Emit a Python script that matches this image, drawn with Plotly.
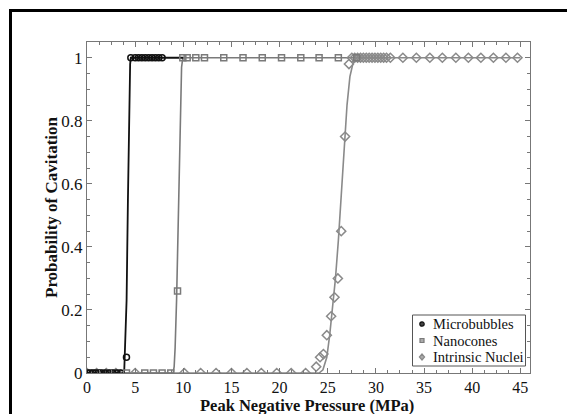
import plotly.graph_objects as go

# ---- data ----
mb_x = [0, 0.3, 0.6, 0.9, 1.2, 1.5, 1.9, 2.3, 2.7, 3.1, 3.5, 4.1, 4.55,
        5.0, 5.35, 5.7, 6.05, 6.4, 6.75, 7.1, 7.45, 7.8]
mb_y = [0, 0, 0, 0, 0, 0, 0, 0, 0, 0, 0, 0.05, 1,
        1, 1, 1, 1, 1, 1, 1, 1, 1]

nc_x = [0, 0.8, 1.6, 2.4, 3.2, 4.1, 6.0, 6.9, 7.8, 8.7, 9.4, 9.95,
        10.4, 11.3, 12.2, 14.2, 16.2, 18.2, 20.2, 22.2, 24.1, 26.1, 28.0]
nc_y = [0, 0, 0, 0, 0, 0, 0, 0, 0, 0, 0.26, 1,
        1, 1, 1, 1, 1, 1, 1, 1, 1, 1, 1]

in_x = [0, 1.0, 2.0, 3.0, 5.0, 10.1, 11.8, 13.4, 15.0, 16.6, 18.1, 19.7, 21.2, 22.7,
        23.8, 24.2, 24.55, 24.9, 25.35, 25.7, 26.05, 26.4, 26.8, 27.2,
        27.5, 27.8, 28.1, 28.4, 28.7, 29.0, 29.3, 29.6, 29.9, 30.2, 30.5, 30.8, 31.1, 31.5,
        32.8, 34.2, 35.6, 36.9, 38.3, 39.6, 40.9, 42.2, 43.5, 44.7]
in_y = [0, 0, 0, 0, 0, 0, 0, 0, 0, 0, 0, 0, 0, 0,
        0.02, 0.05, 0.06, 0.12, 0.18, 0.24, 0.30, 0.45, 0.75, 0.98,
        1, 1, 1, 1, 1, 1, 1, 1, 1, 1, 1, 1, 1, 1,
        1, 1, 1, 1, 1, 1, 1, 1, 1, 1]

# fitted curves
mb_fit_x = [0, 3.8, 3.87, 4.0, 4.11, 4.25, 4.38, 4.48, 4.55, 10.0]
mb_fit_y = [0, 0, 0.01, 0.1, 0.23, 0.55, 0.87, 0.98, 1, 1]

nc_fit_x = [0, 8.95, 9.05, 9.15, 9.3, 9.45, 9.6, 9.71, 9.82, 9.95, 28.0]
nc_fit_y = [0, 0, 0.02, 0.08, 0.23, 0.45, 0.68, 0.87, 0.97, 1, 1]

in_fit_x = [0, 24.1, 24.5, 24.9, 25.2, 25.5, 25.8, 26.1, 26.4, 26.7, 27.0, 27.3, 27.6, 28.0, 45.0]
in_fit_y = [0, 0, 0.01, 0.05, 0.12, 0.2, 0.3, 0.42, 0.56, 0.72, 0.85, 0.94, 0.98, 1, 1]

x_ticks = [0, 5, 10, 15, 20, 25, 30, 35, 40, 45]
y_ticks = [0, 0.2, 0.4, 0.6, 0.8, 1]
y_tick_text = ["0", "0.2", "0.4", "0.6", "0.8", "1"]

legend_names = ["Microbubbles", "Nanocones", "Intrinsic Nuclei"]
x_title = "Peak Negative Pressure (MPa)"
y_title = "Probability of Cavitation"

FONT = "Liberation Serif"
BLACK = "#111111"
GRAY_NC = "#7a7a7a"
GRAY_IN = "#8a8a8a"
AX = "#777777"

# the page places the figure 8px in from the top-left corner
OFF = 8
W, H = 575 - OFF, 414 - OFF
ML, MT = 87 - OFF, 42 - OFF
PW, PH = 443, 331
MR, MB = W - ML - PW, H - MT - PH


def px(x):
    """screen pixel x -> paper x"""
    return (x - OFF - ML) / PW


def py(y):
    """screen pixel y -> paper y"""
    return (MT + PH - (y - OFF)) / PH


fig = go.Figure()

fig.add_trace(go.Scatter(x=in_fit_x, y=in_fit_y, mode="lines",
                         line=dict(color=GRAY_IN, width=1.6), showlegend=False, hoverinfo="skip"))
fig.add_trace(go.Scatter(x=nc_fit_x, y=nc_fit_y, mode="lines",
                         line=dict(color=GRAY_NC, width=1.6), showlegend=False, hoverinfo="skip"))
fig.add_trace(go.Scatter(x=mb_fit_x, y=mb_fit_y, mode="lines",
                         line=dict(color=BLACK, width=1.8), showlegend=False, hoverinfo="skip"))

fig.add_trace(go.Scatter(x=in_x, y=in_y, mode="markers", name=legend_names[2], showlegend=False,
                         marker=dict(symbol="diamond-open", size=7, color=GRAY_IN,
                                     line=dict(width=1.5, color=GRAY_IN))))
fig.add_trace(go.Scatter(x=nc_x, y=nc_y, mode="markers", name=legend_names[1], showlegend=False,
                         marker=dict(symbol="square-open", size=6, color=GRAY_NC,
                                     line=dict(width=1.5, color=GRAY_NC))))
fig.add_trace(go.Scatter(x=mb_x, y=mb_y, mode="markers", name=legend_names[0], showlegend=False,
                         marker=dict(symbol="circle-open", size=6, color=BLACK,
                                     line=dict(width=1.5, color=BLACK))))

axis_common = dict(
    showgrid=False, zeroline=False, showline=True, linecolor=AX, linewidth=1.2,
    mirror="ticks", ticks="inside", ticklen=5, tickcolor=AX, tickwidth=1,
    automargin=False,
)

fig.update_xaxes(range=[0, 46], tickvals=x_ticks, ticktext=[str(v) for v in x_ticks],
                 tickfont=dict(family=FONT, size=16, color=BLACK),
                 minor=dict(ticks="inside", ticklen=3, dtick=1.25, tick0=0, tickcolor=AX),
                 **axis_common)
fig.update_yaxes(range=[0, 1.05], tickvals=y_ticks, ticktext=y_tick_text,
                 tickfont=dict(family=FONT, size=17, color=BLACK),
                 minor=dict(ticks="inside", ticklen=3, dtick=0.05, tick0=0, tickcolor=AX),
                 **axis_common)

fig.update_layout(
    width=W, height=H,
    margin=dict(l=ML, r=MR, t=MT, b=MB),
    paper_bgcolor="white", plot_bgcolor="white",
    showlegend=False,
)

# axis titles
fig.add_annotation(xref="paper", yref="paper", x=px(307), y=py(405.5),
                   xanchor="center", yanchor="middle", showarrow=False,
                   text=f"<b>{x_title}</b>", font=dict(family=FONT, size=16.5, color=BLACK))
fig.add_annotation(xref="paper", yref="paper", x=px(51), y=py(207),
                   xanchor="center", yanchor="middle", showarrow=False, textangle=-90,
                   text=f"<b>{y_title}</b>", font=dict(family=FONT, size=17, color=BLACK))

# legend box (drawn by hand to match the compact original)
fig.add_shape(type="rect", xref="paper", yref="paper",
              x0=px(412.5), x1=px(525.5), y0=py(366), y1=py(315),
              line=dict(color="#555555", width=1), fillcolor="white", layer="above")
rows_y = [324, 340.5, 357]
sym_x = 422
fig.add_shape(type="circle", xref="paper", yref="paper",
              x0=px(sym_x - 2.2), x1=px(sym_x + 2.2), y0=py(rows_y[0] + 2.2), y1=py(rows_y[0] - 2.2),
              line=dict(color=BLACK, width=1.2), fillcolor="#444444", layer="above")
fig.add_shape(type="rect", xref="paper", yref="paper",
              x0=px(sym_x - 2), x1=px(sym_x + 2), y0=py(rows_y[1] + 2), y1=py(rows_y[1] - 2),
              line=dict(color=GRAY_NC, width=1.2), fillcolor="#aaaaaa", layer="above")
cx, cy = sym_x, rows_y[2]
fig.add_shape(type="path", xref="paper", yref="paper",
              path=(f"M {px(cx-2.6)},{py(cy)} L {px(cx)},{py(cy-3)} "
                    f"L {px(cx+2.6)},{py(cy)} L {px(cx)},{py(cy+3)} Z"),
              line=dict(color=GRAY_IN, width=1.2), fillcolor="#aaaaaa", layer="above")
for name, ry in zip(legend_names, rows_y):
    fig.add_annotation(xref="paper", yref="paper", x=px(431), y=py(ry),
                       xanchor="left", yanchor="middle", showarrow=False,
                       text=name, font=dict(family=FONT, size=14.5, color=BLACK))

# black frame (top and left edges visible)
fig.add_shape(type="rect", xref="paper", yref="paper",
              x0=px(10.5), x1=px(700), y0=py(600), y1=py(10.5),
              line=dict(color="black", width=3), fillcolor="rgba(0,0,0,0)", layer="above")

fig.write_html("out.html")
